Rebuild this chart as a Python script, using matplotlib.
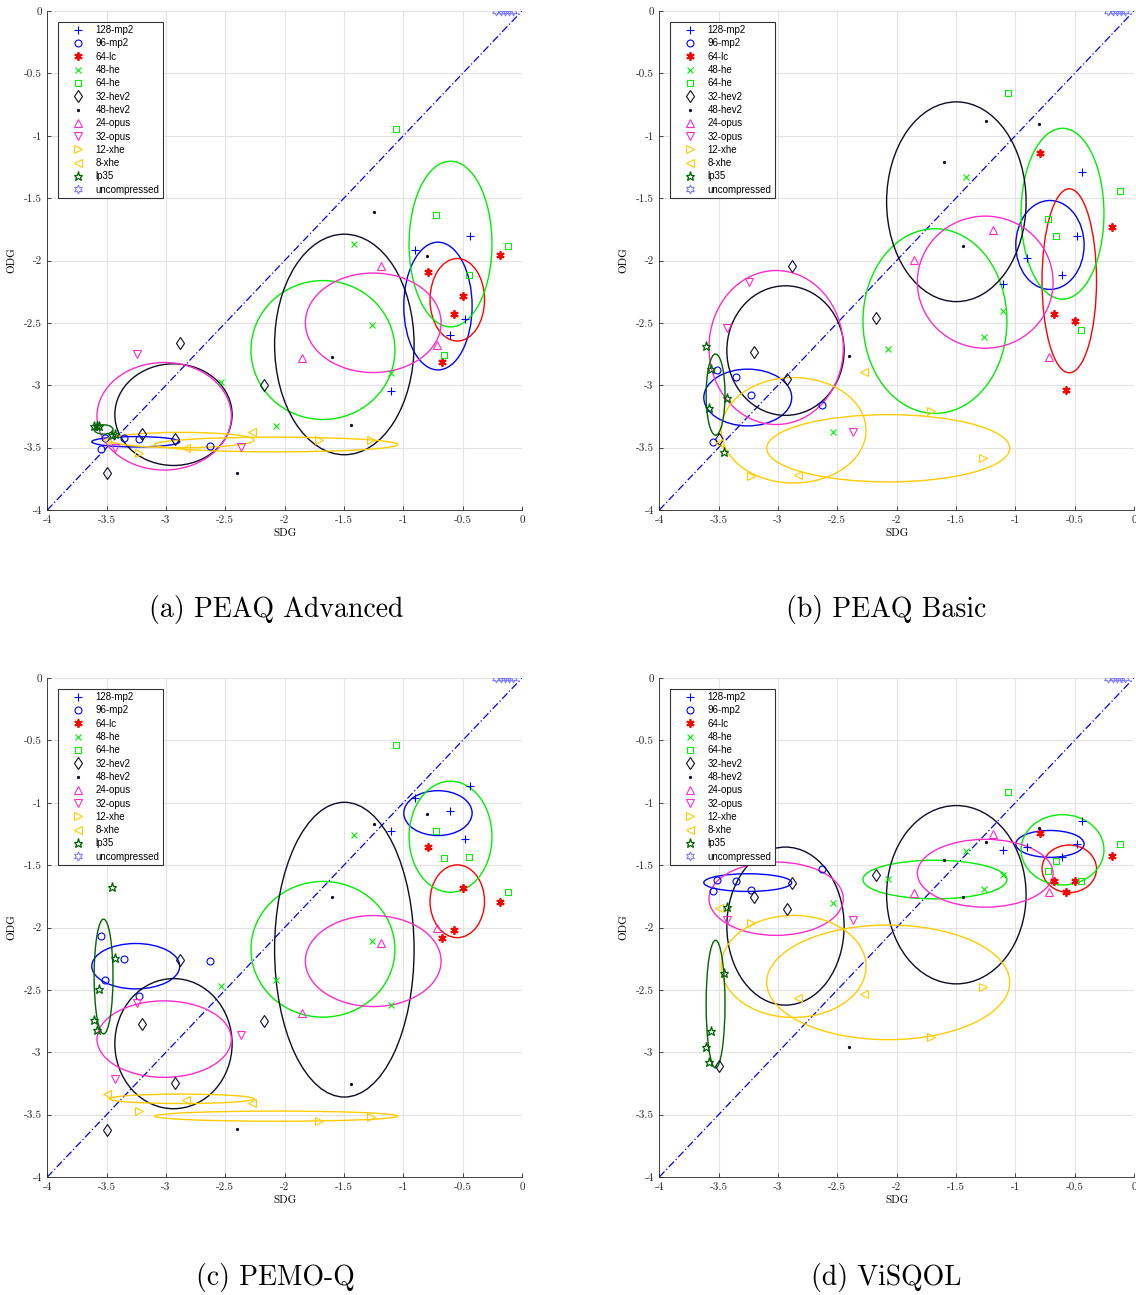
import numpy as np
import matplotlib
matplotlib.use("Agg")
import matplotlib.pyplot as plt
from matplotlib.patches import Ellipse

plt.rcParams['axes.unicode_minus'] = False

# codecs / conditions
labels = ['128-mp2', '96-mp2', '64-lc', '48-he', '64-he', '32-hev2', '48-hev2',
          '24-opus', '32-opus', '12-xhe', '8-xhe', 'lp35', 'uncompressed']

# subjective difference grade per item (same for every metric)
sdg = [
    [-0.905, -0.442, -0.483, -0.603, -1.108],
    [-3.548, -3.511, -3.353, -3.228, -2.633],
    [-0.795, -0.494, -0.573, -0.677, -0.188],
    [-1.412, -1.263, -1.100, -2.537, -2.074],
    [-1.064, -0.726, -0.120, -0.447, -0.655],
    [-2.882, -2.171, -3.205, -2.928, -3.498],
    [-1.246, -0.799, -1.600, -1.439, -2.401],
    [-1.856, -1.187, -0.718],
    [-3.248, -3.428, -2.370],
    [-3.226, -1.713, -1.274],
    [-3.497, -2.830, -2.278],
    [-3.604, -3.581, -3.562, -3.455, -3.427],
    [-0.220, -0.180, -0.145, -0.110, -0.075],
]

# objective difference grade per metric
odg_peaq_advanced = [
    [-1.912, -1.805, -2.465, -2.596, -3.048],
    [-3.508, -3.420, -3.420, -3.430, -3.487],
    [-2.096, -2.283, -2.425, -2.813, -1.957],
    [-1.864, -2.521, -2.901, -2.973, -3.329],
    [-0.944, -1.636, -1.885, -2.118, -2.759],
    [-2.663, -2.995, -3.388, -3.433, -3.700],
    [-1.610, -1.960, -2.773, -3.321, -3.701],
    [-2.781, -2.043, -2.674],
    [-2.751, -3.500, -3.495],
    [-3.543, -3.441, -3.441],
    [-3.440, -3.500, -3.377],
    [-3.326, -3.326, -3.330, -3.400, -3.390],
    [0, 0, 0, 0, 0],
]

odg_peaq_basic = [
    [-1.976, -1.294, -1.805, -2.115, -2.187],
    [-3.452, -2.874, -2.933, -3.075, -3.158],
    [-1.136, -2.487, -3.035, -2.425, -1.730],
    [-1.332, -2.615, -2.401, -3.374, -2.706],
    [-0.655, -1.666, -1.441, -2.556, -1.807],
    [-2.043, -2.460, -2.733, -2.947, -3.428],
    [-0.880, -0.904, -1.214, -1.882, -2.765],
    [-1.992, -1.759, -2.770],
    [-2.171, -2.545, -3.377],
    [-3.730, -3.206, -3.580],
    [-3.465, -3.722, -2.896],
    [-2.684, -3.184, -2.866, -3.537, -3.104],
    [0, 0, 0, 0, 0],
]

odg_pemo_q = [
    [-0.960, -0.864, -1.294, -1.067, -1.230],
    [-2.067, -2.417, -2.249, -2.548, -2.270],
    [-1.358, -1.684, -2.021, -2.088, -1.797],
    [-1.259, -2.112, -2.620, -2.465, -2.417],
    [-0.540, -1.225, -1.717, -1.436, -1.444],
    [-2.262, -2.749, -2.773, -3.246, -3.626],
    [-1.171, -1.094, -1.757, -3.251, -3.615],
    [-2.684, -2.123, -2.000],
    [-2.607, -3.217, -2.860],
    [-3.468, -3.548, -3.521],
    [-3.332, -3.382, -3.406],
    [-2.738, -2.818, -2.492, -1.676, -2.241],
    [0, 0, 0, 0, 0],
]

odg_visqol = [
    [-1.353, -1.150, -1.334, -1.436, -1.377],
    [-1.709, -1.623, -1.631, -1.703, -1.535],
    [-1.246, -1.631, -1.717, -1.626, -1.428],
    [-1.385, -1.690, -1.583, -1.805, -1.615],
    [-0.912, -1.548, -1.332, -1.626, -1.468],
    [-1.647, -1.583, -1.757, -1.850, -3.107],
    [-1.313, -1.201, -1.455, -1.757, -2.960],
    [-1.727, -1.251, -1.717],
    [-1.430, -1.939, -1.939],
    [-1.963, -2.880, -2.476],
    [-1.840, -2.564, -2.532],
    [-2.960, -3.080, -2.826, -2.366, -1.837],
    [0, 0, 0, 0, 0],
]

titles = ['(a) PEAQ Advanced', '(b) PEAQ Basic', '(c) PEMO-Q', '(d) ViSQOL']
metrics = [odg_peaq_advanced, odg_peaq_basic, odg_pemo_q, odg_visqol]

blue, red, green, black = '#0000ff', '#ff0000', '#00ee00', '#0d0d26'
pink, yellow, dgreen, lblue = '#ff2ccc', '#ffcc00', '#006400', '#8080ff'
colors = [blue, blue, red, green, green, black, black,
          pink, pink, yellow, yellow, dgreen, lblue]
markers = ['+', 'o', (6, 2, 0), 'x', 's', 'd', '.', '^', 'v', '>', '<', '*', (6, 1, 0)]
msizes = [6, 5, 6, 4, 4.5, 6, 3, 5.5, 5.5, 5.5, 5.5, 6.5, 6.5]
mwidths = [0.8, 0.8, 1.3, 0.8, 0.8, 0.8, 0.8, 0.8, 0.8, 0.8, 0.8, 0.9, 0.8]
filled = ['.']

W, H = 1136, 1295
fig = plt.figure(figsize=(W / 100, H / 100), dpi=100)

axes_px = [(47.3, 11, 522, 510), (659.3, 11, 1134, 510),
           (47.3, 678, 522, 1177), (659.3, 678, 1134, 1177)]
caption_px = [(276, 610), (886, 610), (275, 1277), (886, 1277)]
ticks = np.arange(-4, 0.01, 0.5)

for title, odg, (l, t, r, b), (cx, cy) in zip(titles, metrics, axes_px, caption_px):
    ax = fig.add_axes([l / W, 1 - b / H, (r - l) / W, (b - t) / H])
    ax.plot([-4, 0], [-4, 0], color='blue', lw=0.9, ls=(0, (6, 2, 1, 2)), zorder=1)

    handles = []
    for i, lab in enumerate(labels):
        x = np.array(sdg[i])
        y = np.array(odg[i])
        # mean +/- one standard deviation
        ax.add_patch(Ellipse((x.mean(), y.mean()), 2 * x.std(ddof=1), 2 * y.std(ddof=1),
                             fill=False, ec=colors[i], lw=1.0, zorder=2))
        mfc = colors[i] if markers[i] in filled else 'none'
        h, = ax.plot(x, y, ls='none', marker=markers[i], ms=msizes[i], mec=colors[i],
                     mfc=mfc, mew=mwidths[i], label=lab, zorder=3)
        handles.append(h)

    ax.set_xlim(-4, 0)
    ax.set_ylim(-4, 0)
    ax.set_xticks(ticks)
    ax.set_yticks(ticks)
    ax.set_xticklabels([f'{v:g}' for v in ticks], family='cmr10')
    ax.set_yticklabels([f'{v:g}' for v in ticks], family='cmr10')
    ax.tick_params(direction='in', length=3, width=0.6, colors='#262626',
                   labelsize=8, pad=4)
    ax.grid(True, color='#e3e3e3', lw=0.8)
    ax.set_axisbelow(True)
    for side in ['top', 'right']:
        ax.spines[side].set_visible(False)
    for side in ['left', 'bottom']:
        ax.spines[side].set_color('#262626')
        ax.spines[side].set_linewidth(0.6)

    ax.set_xlabel('SDG', family='cmr10', fontsize=8)
    ax.set_ylabel('ODG', family='cmr10', fontsize=8)
    ax.xaxis.set_label_coords(0.5, -0.038)
    ax.yaxis.set_label_coords(-0.066, 0.5)

    leg = ax.legend(handles=handles, loc='upper left', bbox_to_anchor=(0.0219, 0.9786),
                    borderaxespad=0, prop={'family': 'Liberation Sans', 'size': 7},
                    handlelength=3.4, handletextpad=0.17, borderpad=0.35,
                    labelspacing=0.34, numpoints=1, fancybox=False, framealpha=1,
                    edgecolor='#333333')
    leg.get_frame().set_linewidth(0.8)

    fig.text(cx / W, 1 - cy / H, title, ha='center', va='center',
             fontsize=20, family='cmr10')

fig.savefig('out.png', dpi=100)
